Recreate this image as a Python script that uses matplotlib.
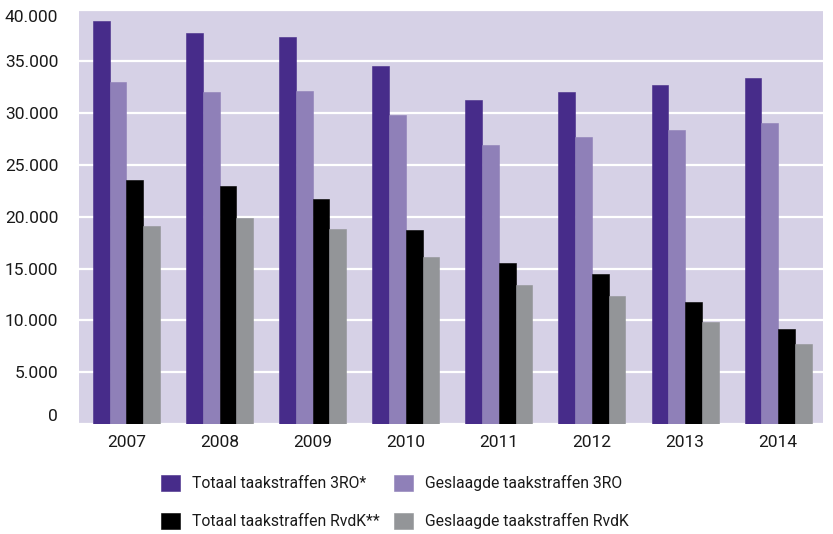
import matplotlib
import numpy as np

matplotlib.use('Agg')
import matplotlib.pyplot as plt
from matplotlib.ticker import FuncFormatter

years = ['2007', '2008', '2009', '2010', '2011', '2012', '2013', '2014']
totaal_3ro = [38900, 37700, 37400, 34600, 31300, 32000, 32700, 33400]
geslaagd_3ro = [33000, 32000, 32150, 29800, 26950, 27750, 28350, 29100]
totaal_rvdk = [23550, 22950, 21750, 18700, 15550, 14450, 11800, 9200]
geslaagd_rvdk = [19150, 19850, 18850, 16150, 13400, 12400, 9800, 7700]

labels = ['Totaal taakstraffen 3RO*', 'Geslaagde taakstraffen 3RO',
          'Totaal taakstraffen RvdK**', 'Geslaagde taakstraffen RvdK']
colors = ['#472c8a', '#8f80b8', '#000000', '#939598']

plt.rcParams['font.family'] = ['Roboto', 'DejaVu Sans']

fig = plt.figure(figsize=(8.33, 5.34), dpi=100)
ax = fig.add_axes([0.0948, 0.206, 0.893, 0.776])
ax.set_facecolor('#d6d1e6')

x = np.arange(len(years))
w = 0.18
series = [totaal_3ro, geslaagd_3ro, totaal_rvdk, geslaagd_rvdk]
bars = []
for i, (vals, c) in enumerate(zip(series, colors)):
    b = ax.bar(x + (i - 1.5) * w, vals, width=w, color=c, edgecolor=c,
               linewidth=0.4, label=labels[i], zorder=2)
    bars.append(b)

ax.set_ylim(0, 40000)
ax.set_xlim(-0.51, 7.48)
ax.set_yticks(np.arange(0, 40001, 5000))
ax.yaxis.set_major_formatter(FuncFormatter(lambda v, p: f'{v:,.0f}'.replace(',', '.')))
ax.set_xticks(x)
ax.set_xticklabels(years)
ax.grid(axis='y', color='white', linewidth=1.6, zorder=1)
ax.set_axisbelow(True)
for s in ax.spines.values():
    s.set_visible(False)
ax.tick_params(axis='both', length=0, labelsize=12.5, colors='#1a1a1a')
ax.tick_params(axis='y', pad=15)
ax.tick_params(axis='x', pad=8)

# edge labels sit inside the plot area
fig.canvas.draw()
ylabs = ax.get_yticklabels()
ylabs[0].set_va('bottom')
ylabs[-1].set_va('top')

kw = dict(frameon=False, fontsize=11.3, handlelength=1.22, handleheight=1.22,
          handletextpad=0.75, labelspacing=1.35, borderpad=0, borderaxespad=0,
          loc='upper left', labelcolor='#1a1a1a')
leg1 = fig.legend(handles=[bars[0], bars[2]], labels=[labels[0], labels[2]],
                  bbox_to_anchor=(161 / 833, 1 - 475 / 534), **kw)
leg2 = fig.legend(handles=[bars[1], bars[3]], labels=[labels[1], labels[3]],
                  bbox_to_anchor=(394 / 833, 1 - 475 / 534), **kw)

fig.savefig('out.png', dpi=100)
